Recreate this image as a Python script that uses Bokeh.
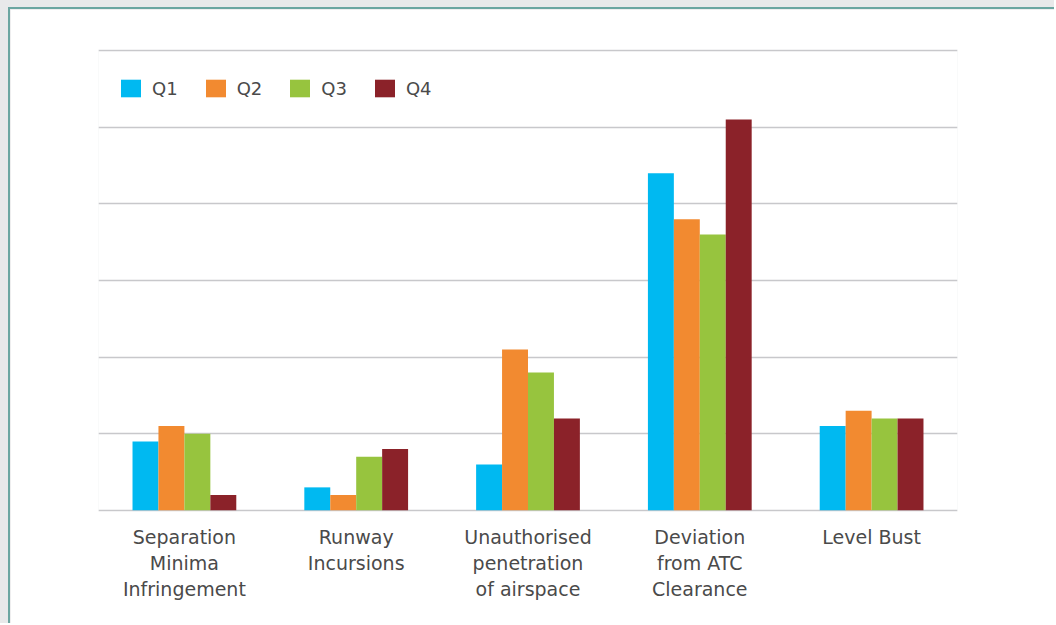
from bokeh.plotting import figure
from bokeh.models import ColumnDataSource, FactorRange, Range1d, Legend, LegendItem, FixedTicker
from bokeh.layouts import column
from bokeh.transform import dodge
from bokeh.embed import file_html
from bokeh.resources import INLINE

categories = ["Separation\nMinima\nInfringement", "Runway\nIncursions",
              "Unauthorised\npenetration\nof airspace", "Deviation\nfrom ATC\nClearance", "Level Bust"]
series = ["Q1", "Q2", "Q3", "Q4"]
q1 = [9, 3, 6, 44, 11]
q2 = [11, 2, 21, 38, 13]
q3 = [10, 7, 18, 36, 12]
q4 = [2, 8, 12, 51, 12]
grid_ticks = [0, 10, 20, 30, 40, 50, 60]
colors = ["#00b9f1", "#f28a30", "#97c43e", "#8b2229"]

src = ColumnDataSource(dict(cat=categories, Q1=q1, Q2=q2, Q3=q3, Q4=q4))

FONT = "DejaVu Sans"

p = figure(width=1046, height=616, x_range=FactorRange(*categories), y_range=Range1d(-0.15, 60.15),
           output_backend="svg", toolbar_location=None,
           min_border_left=88, min_border_right=99, min_border_top=40, min_border_bottom=114)
p.margin = (7, 0, 0, 8)
p.styles = {"border-left": "2px solid #6ba6a1", "border-top": "2px solid #6ba6a1"}
p.background_fill_color = "white"
p.border_fill_color = "white"
p.outline_line_color = None

w = 0.151
offsets = [-1.5 * w, -0.5 * w, 0.5 * w, 1.5 * w]
renderers = []
for s, off, c in zip(series, offsets, colors):
    r = p.vbar(x=dodge("cat", off, range=p.x_range), top=s, width=w, source=src,
               fill_color=c, line_color=None)
    renderers.append(r)

p.yaxis.visible = False
p.yaxis.ticker = FixedTicker(ticks=grid_ticks)
p.ygrid.ticker = FixedTicker(ticks=grid_ticks)
p.ygrid.grid_line_color = "#c8c8cb"
p.ygrid.grid_line_width = 1.5
p.ygrid.level = "underlay"
p.xgrid.visible = False

ax = p.xaxis[0]
ax.axis_line_color = None
ax.major_tick_line_color = None
ax.minor_tick_line_color = None
ax.major_label_text_font = FONT
ax.major_label_text_font_size = "19px"
ax.major_label_text_color = "#4a4a4a"
ax.major_label_standoff = 8
ax.major_label_text_line_height = 1.2

legend = Legend(items=[LegendItem(label=s, renderers=[r]) for s, r in zip(series, renderers)],
                orientation="horizontal", location=(20, 412))
legend.glyph_width = 25
legend.glyph_height = 22
legend.label_standoff = 9
legend.spacing = 25
legend.padding = 0
legend.margin = 0
legend.border_line_color = None
legend.background_fill_alpha = 0
legend.label_text_font = FONT
legend.label_text_font_size = "18px"
legend.label_text_color = "#4a4a4a"
p.add_layout(legend, "center")

layout = column(p, styles={"background-color": "#e8e9ea"})
open("out.html", "w").write(file_html(layout, INLINE))
